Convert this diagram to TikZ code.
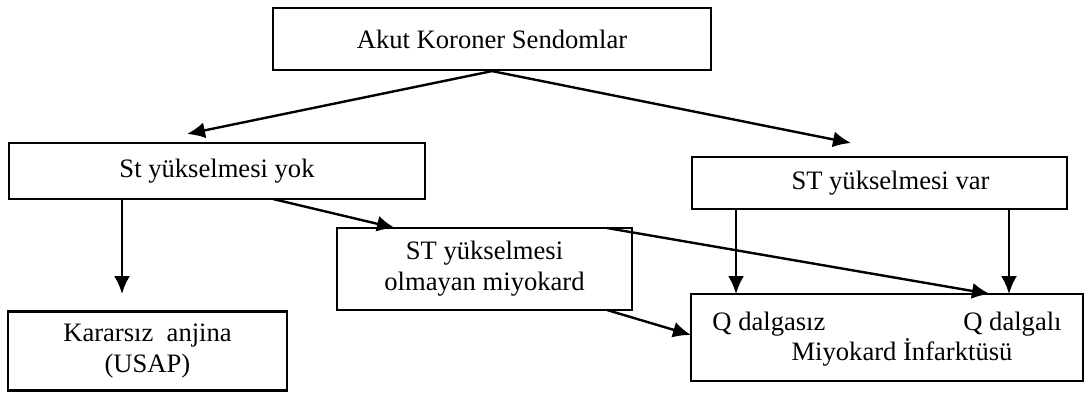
\documentclass[tikz,border=0pt]{standalone}
\usepackage{fontspec}
\setmainfont{Liberation Serif}
\usetikzlibrary{arrows.meta}
\begin{document}
\begin{tikzpicture}[x=0.5pt,y=-0.5pt,
  box/.style={draw,line width=1.1pt,inner sep=0pt,align=center,
    font=\fontsize{13.3}{15.5}\selectfont},
  txt/.style={inner sep=0pt,font=\fontsize{13.3}{15.5}\selectfont},
  arr/.style={line width=1.2pt,-{Latex[length=9pt,width=8pt]}}]
\useasboundingbox (0,0) rectangle (1085,392);

% boxes
\node[box,minimum width=219pt,minimum height=31pt] (acs) at (492,39) {Akut Koroner Sendomlar};
\node[box,minimum width=208pt,minimum height=28pt] (styok) at (217,171) {St yükselmesi yok};
\node[box,minimum width=187.5pt,minimum height=26pt] (stvar) at (879.5,183) {\hspace*{11pt}ST yükselmesi var};
\node[box,minimum width=147.5pt,minimum height=41pt] (nstemi) at (484.5,269) {ST yükselmesi\\olmayan miyokard};
\node[box,minimum width=139.5pt,minimum height=39.5pt] (usap) at (147.5,351) {Kararsız\ \ anjina\\(USAP)};
\node[draw,line width=1.1pt,inner sep=0pt,minimum width=196pt,minimum height=43.5pt] (mi) at (887,337.5) {};
\node[txt,anchor=base west] (qsiz) at (712,330) {Q dalgasız};
\node[txt,anchor=base east] (qli) at (1062,330) {Q dalgalı};
\node[txt,anchor=base] (mitxt) at (902,360) {Miyokard İnfarktüsü};

% connector end points
\coordinate (e1) at (187,134);
\coordinate (e2) at (851,143);
\coordinate (s3) at (273,199);
\coordinate (e3) at (395,228);
\coordinate (s4) at (122,199);
\coordinate (e4) at (122,294);
\coordinate (s5) at (736,209);
\coordinate (e5) at (736,294);
\coordinate (s6) at (1009,209);
\coordinate (e6) at (1009,294);
\coordinate (s7) at (607,228);
\coordinate (e7) at (990,294);
\coordinate (s8) at (607,310);
\coordinate (e8) at (691,335);

% connectors
\draw[arr] (acs.south) -- (e1);
\draw[arr] (acs.south) -- (e2);
\draw[arr] (s3) -- (e3);
\draw[arr] (s4) -- (e4);
\draw[arr] (s5) -- (e5);
\draw[arr] (s6) -- (e6);
\draw[arr] (s7) -- (e7);
\draw[arr] (s8) -- (e8);
\end{tikzpicture}
\end{document}
